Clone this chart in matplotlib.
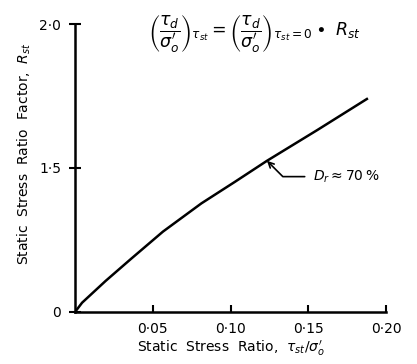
import numpy as np
import matplotlib
matplotlib.use("Agg")
import matplotlib.pyplot as plt

# curve (Dr ~ 70 %)
stress_ratio = [0.0, 0.0045, 0.0197, 0.0359, 0.0565, 0.0812, 0.1028, 0.1234, 0.1558, 0.1883]
r_st = [1.0, 1.032, 1.108, 1.184, 1.279, 1.377, 1.452, 1.525, 1.632, 1.742]

x_ticks = [0.05, 0.10, 0.15, 0.20]
x_labels = ["0·05", "0·10", "0·15", "0·20"]
y_ticks = [1.0, 1.5, 2.0]
y_labels = ["0", "1·5", "2·0"]

plt.rcParams["font.family"] = ["DejaVu Sans"]
plt.rcParams["mathtext.fontset"] = "dejavusans"

fig = plt.figure(figsize=(4.17, 3.64), dpi=100)
ax = fig.add_axes([0.18, 0.143, 0.746, 0.791])

ax.plot(stress_ratio, r_st, color="black", lw=1.8, solid_capstyle="butt")

ax.set_xlim(0, 0.20)
ax.set_ylim(1.0, 2.0)
ax.spines["top"].set_visible(False)
ax.spines["right"].set_visible(False)
for s in ("left", "bottom"):
    ax.spines[s].set_linewidth(1.8)

ax.set_xticks(x_ticks)
ax.set_xticklabels(x_labels, fontsize=10)
ax.set_yticks(y_ticks)
ax.set_yticklabels(y_labels, fontsize=10)
ax.tick_params(axis="x", direction="in", length=5, width=1.5, pad=7)
ax.tick_params(axis="y", direction="inout", length=8, width=1.5, pad=6)

ax.set_xlabel(r"Static  Stress  Ratio,  $\tau_{st}/\sigma_o'$", fontsize=10, labelpad=2)
ax.set_ylabel(r"Static  Stress  Ratio  Factor,  $R_{st}$", fontsize=10, labelpad=0)
ax.yaxis.set_label_coords(-0.135, 0.55)

fig.text(0.61, 0.905,
         r"$\left(\dfrac{\tau_d}{\sigma_o'}\right)_{\tau_{st}} = "
         r"\left(\dfrac{\tau_d}{\sigma_o'}\right)_{\tau_{st}=0} \bullet\ R_{st}$",
         fontsize=12.5, ha="center", va="center")

ax.annotate(r"$D_r \approx 70\,\%$", xy=(0.1234, 1.525), xytext=(0.153, 1.47),
            fontsize=10, va="center",
            arrowprops=dict(arrowstyle="->", color="black", lw=1.2,
                            connectionstyle="angle,angleA=0,angleB=-45,rad=0",
                            shrinkA=4, shrinkB=0))

fig.savefig("out.png", dpi=100)
